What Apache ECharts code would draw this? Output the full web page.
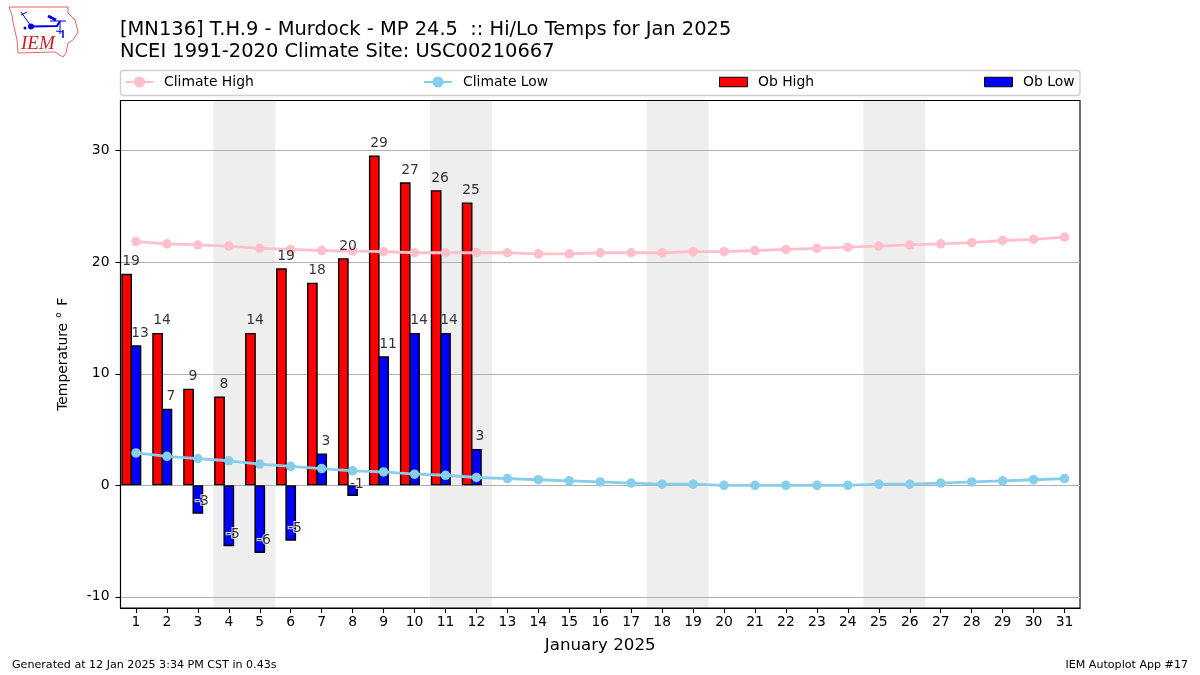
<!DOCTYPE html>
<html>
<head>
<meta charset="utf-8">
<style>html,body{margin:0;padding:0;background:#fff}#c{width:1200px;height:675px}</style>
<script src="https://cdn.jsdelivr.net/npm/echarts@6/dist/echarts.min.js"></script>
</head>
<body>
<div id="c"></div>
<script>
const FONT = '"DejaVu Sans"';
const days = ['1','2','3','4','5','6','7','8','9','10','11','12','13','14','15','16','17','18','19','20','21','22','23','24','25','26','27','28','29','30','31'];
const yTicks = [-10, 0, 10, 20, 30];
const yMin = -11;
const yMax = 34.5;
const shadedRanges = [['4','5'],['11','12'],['18','19'],['25','26']];
const climateHigh = [21.85,21.65,21.55,21.45,21.25,21.15,21.05,21.0,20.95,20.85,20.85,20.85,20.85,20.75,20.75,20.85,20.85,20.85,20.95,20.95,21.05,21.15,21.25,21.35,21.45,21.55,21.65,21.75,21.95,22.05,22.25];
const climateLow = [2.9,2.6,2.4,2.2,1.9,1.7,1.5,1.3,1.2,1.0,0.9,0.7,0.6,0.5,0.4,0.3,0.2,0.1,0.1,0,0,0,0,0,0.1,0.1,0.2,0.3,0.4,0.5,0.6];
const obHigh = [18.96,13.66,8.66,7.96,13.66,19.46,18.16,20.36,29.56,27.16,26.46,25.36];
const obLow = [12.56,6.86,-2.56,-5.46,-6.06,-4.96,2.86,-0.96,11.56,13.66,13.66,3.26];
const obHighLabels = ['19','14','9','8','14','19','18','20','29','27','26','25'];
const obLowLabels = ['13','7','-3','-5','-6','-5','3','-1','11','14','14','3'];

const blue = '#0000e0', red = '#e06666';
const logo = [
  {type:'polygon',shape:{points:[[9,7],[68,7],[68,13],[75,20],[78,32],[73,40],[68,43],[66,53],[63,57],[55,52],[18,53],[17,40],[13,22],[12,15]]},style:{fill:'#fff',stroke:red,lineWidth:1}},
  {type:'polyline',shape:{points:[[31,26.5],[57,26],[60,21]]},style:{fill:'none',stroke:blue,lineWidth:2}},
  {type:'polyline',shape:{points:[[21,12],[31,26]]},style:{fill:'none',stroke:blue,lineWidth:1}},
  {type:'polyline',shape:{points:[[21,15],[27,12]]},style:{fill:'none',stroke:blue,lineWidth:1}},
  {type:'circle',shape:{cx:31,cy:26.5,r:3},style:{fill:blue}},
  {type:'polyline',shape:{points:[[48,16],[56,20]]},style:{fill:'none',stroke:blue,lineWidth:3}},
  {type:'polyline',shape:{points:[[50,21],[66,21]]},style:{fill:'none',stroke:blue,lineWidth:1}},
  {type:'polyline',shape:{points:[[60,21],[60,34]]},style:{fill:'none',stroke:blue,lineWidth:1}},
  {type:'polyline',shape:{points:[[63,30],[63,38]]},style:{fill:'none',stroke:blue,lineWidth:1.5}},
  {type:'polyline',shape:{points:[[56,31],[63,32]]},style:{fill:'none',stroke:blue,lineWidth:1}},
  {type:'circle',shape:{cx:25,cy:28,r:1.5},style:{fill:blue}},
  {type:'text',x:21,y:34,style:{text:'IEM',fontFamily:'"Liberation Serif"',fontStyle:'italic',fontSize:19,fill:'#c8202a'}}
];

const chart = echarts.init(document.getElementById('c'), null, {renderer:'canvas'});
const mkLegend = (name,left,top,h,icon,pad) => ({
  show:true,data:icon?[{name:name,icon:icon,itemStyle:{borderWidth:1}}]:[name],left:left,top:top,itemWidth:28,itemHeight:h,padding:0,
  textStyle:{fontFamily:FONT,fontSize:13.9,color:'#000',padding:[0,0,0,pad]},selectedMode:false
});
const labelled = (values) => values.map(v => ({value:v,label:{textBorderWidth:v<0?2:0}}));
const dataLabel = (labels) => ({
  show:true,position:'top',distance:0,
  formatter:p => labels[p.dataIndex],
  fontFamily:FONT,fontSize:13.9,color:'#000',textBorderColor:'#fff'
});
const snapLabel = (ox, oy) => p => {
  const cx=p.labelRect.x+p.labelRect.width/2, cy=p.labelRect.y+p.labelRect.height/2;
  return {dx:Math.round(cx+ox)-cx, dy:Math.round(cy+oy)-cy};
};
chart.setOption({
  animation:false,
  backgroundColor:'#fff',
  title:[{
    text:'[MN136] T.H.9 - Murdock - MP 24.5  :: Hi/Lo Temps for Jan 2025\nNCEI 1991-2020 Climate Site: USC00210667',
    left:120,top:19,padding:0,
    textStyle:{fontFamily:FONT,fontSize:19.44,fontWeight:'normal',color:'#000',lineHeight:22}
  }],
  graphic:[
    {type:'group',silent:true,children:logo},
    {type:'rect',silent:true,z:-10,shape:{x:120.5,y:70.5,width:959.5,height:25,r:3},style:{fill:'#fff',stroke:'#d0d0d0',lineWidth:1.4}},
    {type:'text',silent:true,x:12,y:660,style:{text:'Generated at 12 Jan 2025 3:34 PM CST in 0.43s',fontFamily:FONT,fontSize:11.1,fill:'#000'}},
    {type:'text',silent:true,x:1188,y:660,style:{text:'IEM Autoplot App #17',align:'right',fontFamily:FONT,fontSize:11.1,fill:'#000'}}
  ],
  legend:[
    mkLegend('Climate High',124.5,75,14,null,5.5),
    mkLegend('Climate Low',423,75,14,null,6),
    mkLegend('Ob High',719,75,9.5,'rect',5.5),
    mkLegend('Ob Low',984,75,9.5,'rect',5.5)
  ],
  grid:{left:120.5,width:959.5,top:100.5,height:507.5,show:true,borderColor:'#000',borderWidth:1.1,backgroundColor:'transparent'},
  xAxis:{
    type:'category',data:days,boundaryGap:true,
    name:'January 2025',nameLocation:'middle',nameGap:29,
    nameTextStyle:{fontFamily:FONT,fontSize:16.67,color:'#000'},
    axisLine:{onZero:false,lineStyle:{color:'#000',width:1.1}},
    axisTick:{show:true,alignWithLabel:true,interval:0,length:5,lineStyle:{color:'#000',width:1.1}},
    axisLabel:{interval:0,margin:7,fontFamily:FONT,fontSize:13.9,color:'#000'},
    splitLine:{show:false}
  },
  yAxis:{
    type:'value',min:yMin,max:yMax,
    name:'Temperature °\u200A F',
    nameLocation:'middle',nameGap:50,
    nameTextStyle:{fontFamily:FONT,fontSize:13.9,color:'#000'},
    axisLine:{show:true,lineStyle:{color:'#000',width:1.1}},
    axisTick:{show:true,length:5,lineStyle:{color:'#000',width:1.1},customValues:yTicks},
    axisLabel:{margin:11,fontFamily:FONT,fontSize:13.9,color:'#000',customValues:yTicks},
    splitLine:{show:true,lineStyle:{color:'#b0b0b0',width:1.1}}
  },
  series:[
    {type:'custom',name:'shade',silent:true,z:-1,
      data:shadedRanges,encode:{x:[0,1]},
      renderItem:(params,api)=>{
        const a=api.coord([api.value(0),yMax]);
        const b=api.coord([api.value(1),yMin]);
        const w=api.size([1,0])[0];
        return {type:'rect',shape:{x:a[0]-w/2,y:a[1],width:b[0]-a[0]+w,height:b[1]-a[1]},style:{fill:'#eeeeee'}};
      }},
    {type:'bar',name:'Ob High',data:obHigh,barWidth:'34.6%',barGap:'-13%',z:3,
      itemStyle:{color:'#ff0000',borderColor:'#000',borderWidth:1.4}},
    {type:'bar',name:'Ob Low',data:obLow,barWidth:'34.6%',barGap:'-13%',z:3,
      itemStyle:{color:'#0000ff',borderColor:'#000',borderWidth:1.4}},
    {type:'bar',name:'offset',data:[],barWidth:'34.6%',barGap:'-13%',z:3},
    {type:'line',name:'Climate High',data:climateHigh,z:4,symbol:'circle',symbolSize:9.5,showSymbol:true,
      lineStyle:{color:'#ffc0cb',width:2.8},itemStyle:{color:'#ffc0cb'}},
    {type:'line',name:'Climate Low',data:climateLow,z:4,symbol:'circle',symbolSize:9.5,showSymbol:true,
      lineStyle:{color:'#87ceeb',width:2.8},itemStyle:{color:'#87ceeb'}},
    {type:'scatter',name:'Ob High labels',data:labelled(obHigh),z:5,silent:true,symbolSize:1,itemStyle:{color:'transparent'},label:dataLabel(obHighLabels),labelLayout:snapLabel(-5,-5)},
    {type:'scatter',name:'Ob Low labels',data:labelled(obLow),z:5,silent:true,symbolSize:1,itemStyle:{color:'transparent'},label:dataLabel(obLowLabels),labelLayout:snapLabel(4,-5)}
  ]
});
</script>
</body>
</html>
